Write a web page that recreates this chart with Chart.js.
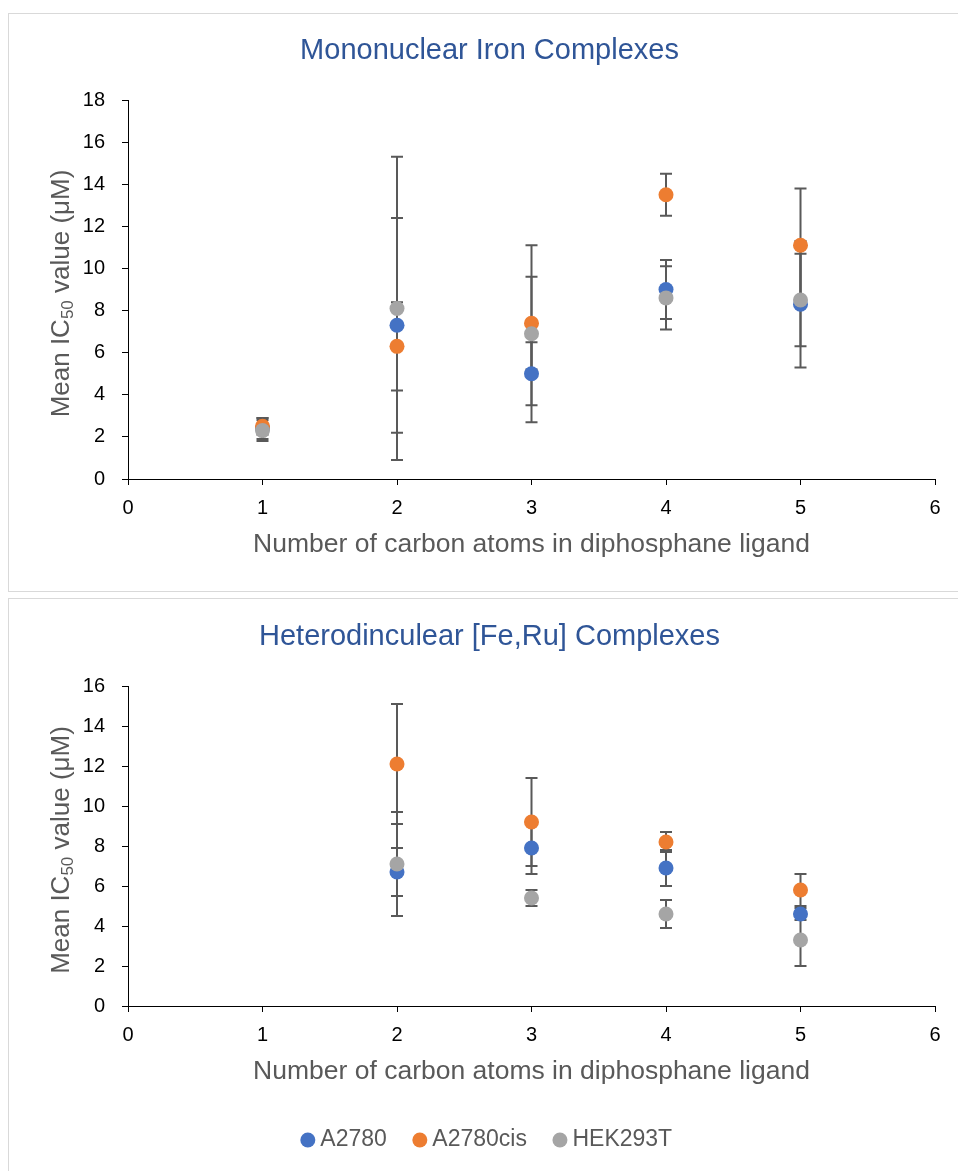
<!DOCTYPE html>
<html><head><meta charset="utf-8">
<script src="https://cdn.jsdelivr.net/npm/chart.js@4"></script>
<style>
html,body{margin:0;padding:0;background:#fff;overflow:hidden;width:958px;height:1171px;position:relative;}
.box{position:absolute;border:1.5px solid #D9D9D9;box-sizing:border-box;}
canvas{position:absolute;left:0;}
</style></head><body>
<div class="box" style="left:8px;top:13px;width:1000px;height:579px;"></div>
<div class="box" style="left:8px;top:598px;width:1000px;height:600px;"></div>
<canvas id="c1" width="979" height="594" style="top:0"></canvas>
<canvas id="c2" width="979" height="575" style="top:596px"></canvas>
<script>
const FONT = '"Liberation Sans", Arial, Helvetica, sans-serif';

const cellLines = ['A2780', 'A2780cis', 'HEK293T'];
const seriesColors = ['#4472C4', '#ED7D31', '#A5A5A5'];

// Mononuclear iron complexes
const monoCarbons = [1, 2, 3, 4, 5];
const monoA2780 = [2.4, 7.3, 5.0, 9.0, 8.3];
const monoA2780Err = [0.5, 5.1, 1.5, 1.4, 3.0];
const monoA2780cis = [2.5, 6.3, 7.4, 13.5, 11.1];
const monoA2780cisErr = [0.4, 2.1, 2.2, 1.0, 2.7];
const monoHEK293T = [2.3, 8.1, 6.9, 8.6, 8.5];
const monoHEK293TErr = [0.5, 7.2, 4.2, 1.5, 2.2];

// Heterodinuclear [Fe,Ru] complexes
const heteroCarbons = [2, 3, 4, 5];
const heteroA2780 = [6.7, 7.9, 6.9, 4.6];
const heteroA2780Err = [1.2, 1.3, 0.9, 0.3];
const heteroA2780cis = [12.1, 9.2, 8.2, 5.8];
const heteroA2780cisErr = [3.0, 2.2, 0.5, 0.8];
const heteroHEK293T = [7.1, 5.4, 4.6, 3.3];
const heteroHEK293TErr = [2.6, 0.4, 0.7, 1.3];

const xMin = 0, xMax = 6;
const monoYMax = 18, heteroYMax = 16;
const title1 = 'Mononuclear Iron Complexes';
const title2 = 'Heterodinculear [Fe,Ru] Complexes';
const xTitle = 'Number of carbon atoms in diphosphane ligand';
const yTitleParts = ['Mean IC', '50', ' value (μM)'];

function makeDatasets(xs, vals, errs) {
  return vals.map((v, k) => ({
    label: cellLines[k],
    data: xs.map((x, i) => ({x: x, y: v[i]})),
    errors: errs[k],
    backgroundColor: seriesColors[k],
    borderColor: seriesColors[k],
    borderWidth: 0,
    pointRadius: 7.5,
    pointHoverRadius: 7.5,
    pointStyle: 'circle',
    showLine: false,
    order: 3 - k
  }));
}

const errorBars = {
  id: 'errorBars',
  beforeDatasetsDraw(chart) {
    const {ctx} = chart; const xs = chart.scales.x, ys = chart.scales.y;
    ctx.save(); ctx.strokeStyle = '#595959'; ctx.lineWidth = 2;
    chart.data.datasets.forEach(ds => {
      ds.data.forEach((p, i) => {
        const e = ds.errors[i];
        const px = xs.getPixelForValue(p.x);
        const yt = ys.getPixelForValue(p.y + e), yb = ys.getPixelForValue(Math.max(0, p.y - e));
        ctx.beginPath();
        ctx.moveTo(px, yt); ctx.lineTo(px, yb);
        ctx.moveTo(px - 6, yt); ctx.lineTo(px + 6, yt);
        ctx.moveTo(px - 6, yb); ctx.lineTo(px + 6, yb);
        ctx.stroke();
      });
    });
    ctx.restore();
  }
};

const yTitle = {
  id: 'yTitle',
  afterDraw(chart) {
    const {ctx, chartArea} = chart;
    const big = '26px ' + FONT, small = '17px ' + FONT;
    ctx.save();
    ctx.fillStyle = '#595959';
    ctx.translate(62, (chartArea.top + chartArea.bottom) / 2 + 4);
    ctx.rotate(-Math.PI / 2);
    ctx.textBaseline = 'middle'; ctx.textAlign = 'left';
    ctx.font = big; const w0 = ctx.measureText(yTitleParts[0]).width;
    const w2 = ctx.measureText(yTitleParts[2]).width;
    ctx.font = small; const w1 = ctx.measureText(yTitleParts[1]).width;
    let x = -(w0 + w1 + w2) / 2;
    ctx.font = big; ctx.fillText(yTitleParts[0], x, 0); x += w0;
    ctx.font = small; ctx.fillText(yTitleParts[1], x, 6); x += w1;
    ctx.font = big; ctx.fillText(yTitleParts[2], x, 0);
    ctx.restore();
  }
};

function makeChart(id, xs, vals, errs, yMax, title, titlePad, xAxisHeight, xTitlePad, showLegend) {
  return new Chart(document.getElementById(id), {
    type: 'scatter',
    data: {datasets: makeDatasets(xs, vals, errs)},
    plugins: [errorBars, yTitle],
    options: {
      responsive: false, animation: false,
      layout: {padding: {left: 44, right: 44, top: 0, bottom: showLegend ? 9.5 : 0}},
      plugins: {
        tooltip: {enabled: false},
        title: {display: true, text: title, color: '#2F5597',
          font: {family: FONT, size: 29, weight: 'normal'}, padding: titlePad},
        legend: {display: showLegend, position: 'bottom',
          labels: {usePointStyle: true, pointStyle: 'circle', boxWidth: 2, boxHeight: 10.6,
            padding: 32, color: '#595959', font: {family: FONT, size: 23},
            sort: (a, b) => a.datasetIndex - b.datasetIndex}}
      },
      scales: {
        x: {type: 'linear', min: xMin, max: xMax,
          ticks: {stepSize: 1, color: '#000', font: {family: FONT, size: 20}, padding: 11},
          grid: {drawOnChartArea: false, drawTicks: true, tickLength: 6, color: '#000'},
          border: {color: '#000', width: 1},
          title: {display: true, text: xTitle, color: '#595959', font: {family: FONT, size: 26.5},
            padding: {top: xTitlePad, bottom: xTitlePad}},
          afterFit: s => { s.height = xAxisHeight; }
        },
        y: {min: 0, max: yMax,
          ticks: {stepSize: 2, color: '#000', font: {family: FONT, size: 20}, padding: 17},
          grid: {drawOnChartArea: false, drawTicks: true, tickLength: 6, color: '#000'},
          border: {color: '#000', width: 1},
          afterFit: s => { s.width = 84; }
        }
      }
    }
  });
}

makeChart('c1', monoCarbons, [monoA2780, monoA2780cis, monoHEK293T],
  [monoA2780Err, monoA2780cisErr, monoHEK293TErr], monoYMax, title1,
  {top: 33.6, bottom: 31.6}, 115, 33.1, false);
makeChart('c2', heteroCarbons, [heteroA2780, heteroA2780cis, heteroHEK293T],
  [heteroA2780Err, heteroA2780cisErr, heteroHEK293TErr], heteroYMax, title2,
  {top: 24, bottom: 31.2}, 90.5, 8.6, true);
</script>
</body></html>
